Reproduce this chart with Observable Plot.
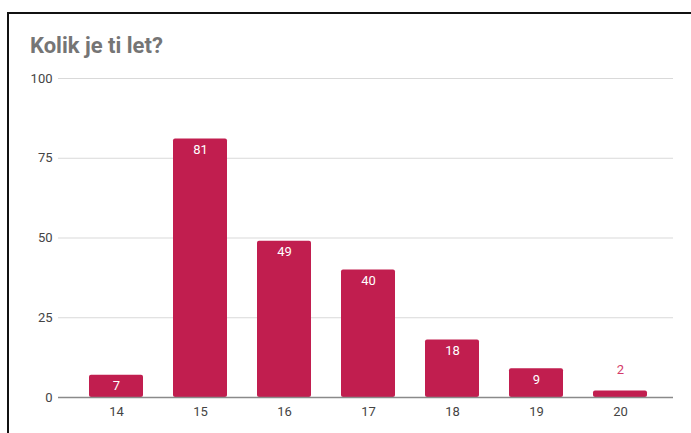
<!DOCTYPE html>
<html>
<head>
<meta charset="utf-8">
<script src="https://cdn.jsdelivr.net/npm/d3@7"></script>
<script src="https://cdn.jsdelivr.net/npm/@observablehq/plot@0.6"></script>
<style>
  html, body { margin: 0; padding: 0; background: #fff; width: 691px; height: 433px; overflow: hidden; }
  #frame { position: absolute; left: 7px; top: 12px; width: 700px; height: 440px;
           border-top: 2.5px solid #111; border-left: 2.5px solid #111; }
  #title { position: absolute; left: 30px; top: 34.5px; margin: 0; line-height: 22px;
           font-family: Roboto, "Noto Sans", sans-serif; font-weight: 700; font-size: 22px; color: #757575; }
  #chart { position: absolute; left: 0; top: 0; }
</style>
</head>
<body>
<div id="frame"></div>
<h2 id="title">Kolik je ti let?</h2>
<div id="chart"></div>
<script>
const ages = ["14", "15", "16", "17", "18", "19", "20"];
const counts = [7, 81, 49, 40, 18, 9, 2];
const yTicks = [0, 25, 50, 75, 100];

const data = ages.map((a, i) => ({age: a, count: counts[i]}));
const barColor = "#c11e4f";

const plot = Plot.plot({
  width: 691,
  height: 433,
  marginLeft: 58,
  marginRight: 18,
  marginTop: 78,
  marginBottom: 36,
  style: {fontFamily: "Roboto, 'Noto Sans', sans-serif", fontSize: "13px", color: "#444", background: "transparent"},
  x: {domain: ages, paddingInner: 0.36, paddingOuter: 0.34, align: 0.55, label: null},
  y: {domain: [0, 100], label: null},
  marks: [
    Plot.gridY(yTicks.filter(d => d > 0), {stroke: "#d9d9d9", strokeOpacity: 1}),
    Plot.axisY({ticks: yTicks, tickSize: 0, tickPadding: 6, label: null, fill: "#444", fontSize: 13}),
    Plot.axisX({tickSize: 0, tickPadding: 9, label: null, fill: "#444", fontSize: 13}),
    Plot.barY(data, {x: "age", y: "count", fill: barColor, rx: 2}),
    Plot.ruleY([0], {stroke: "#8a8a8a", strokeWidth: 1.5}),
    Plot.text(data.filter(d => d.count >= 5), {x: "age", y: "count", text: d => String(d.count), fill: "#fff", dy: 11, fontSize: 13}),
    Plot.text(data.filter(d => d.count < 5), {x: "age", y: "count", text: d => String(d.count), fill: "#d43a6a", dy: -21, fontSize: 13})
  ]
});
document.getElementById("chart").appendChild(plot);
</script>
</body>
</html>
